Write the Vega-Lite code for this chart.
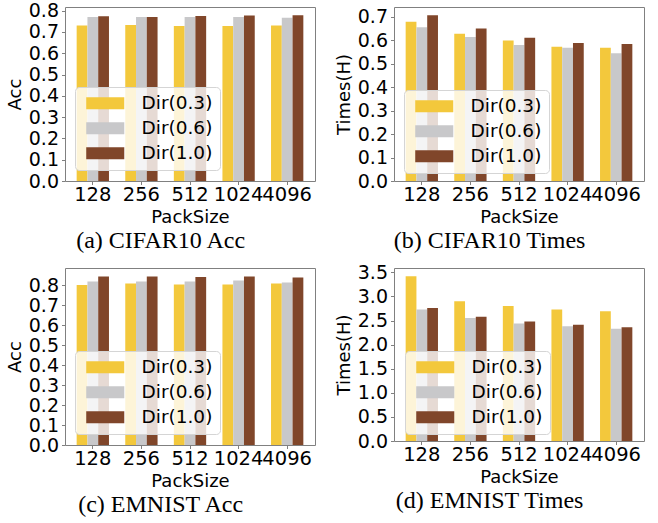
{
  "$schema": "https://vega.github.io/schema/vega-lite/v6.json",
  "padding": {"left": 5, "top": 1, "right": 8, "bottom": 1},
  "background": "white",
  "config": {
    "view": {"stroke": "#808080", "strokeWidth": 1},
    "axis": {
      "labelFont": "DejaVu Sans", "labelFontSize": 19, "labelColor": "black",
      "titleFont": "DejaVu Sans", "titleFontSize": 18, "titleFontWeight": "normal", "titleColor": "black",
      "tickColor": "#808080", "tickSize": 3.5, "domain": false, "grid": false,
      "labelOverlap": false
    },
    "axisX": {"labelPadding": 1, "titlePadding": 4, "labelFontSize": 19.5},
    "axisY": {"labelPadding": 3, "titlePadding": 4},
    "legend": {
      "orient": "none", "title": null,
      "labelFont": "DejaVu Sans", "labelFontSize": 18.5, "labelColor": "black", "labelOffset": 27,
      "symbolType": "M-3.17,-1H3.17V1H-3.17Z", "symbolSize": 144, "symbolOffset": 14, "symbolStrokeWidth": 0, "symbolOpacity": 1,
      "fillColor": "rgba(255,255,255,0.8)", "strokeColor": "#d5d5d5", "cornerRadius": 4, "padding": 7, "rowPadding": 6
    },
    "title": {"font": "Liberation Serif", "fontSize": 24, "fontWeight": "normal", "color": "black", "orient": "bottom", "anchor": "middle", "frame": "bounds", "offset": 3}
  },
  "datasets": {
    "a": [
      {"pack": "128", "dir": "Dir(0.3)", "v": 0.730}, {"pack": "128", "dir": "Dir(0.6)", "v": 0.770}, {"pack": "128", "dir": "Dir(1.0)", "v": 0.774},
      {"pack": "256", "dir": "Dir(0.3)", "v": 0.733}, {"pack": "256", "dir": "Dir(0.6)", "v": 0.770}, {"pack": "256", "dir": "Dir(1.0)", "v": 0.770},
      {"pack": "512", "dir": "Dir(0.3)", "v": 0.728}, {"pack": "512", "dir": "Dir(0.6)", "v": 0.770}, {"pack": "512", "dir": "Dir(1.0)", "v": 0.775},
      {"pack": "1024", "dir": "Dir(0.3)", "v": 0.728}, {"pack": "1024", "dir": "Dir(0.6)", "v": 0.770}, {"pack": "1024", "dir": "Dir(1.0)", "v": 0.777},
      {"pack": "4096", "dir": "Dir(0.3)", "v": 0.730}, {"pack": "4096", "dir": "Dir(0.6)", "v": 0.767}, {"pack": "4096", "dir": "Dir(1.0)", "v": 0.778}
    ],
    "b": [
      {"pack": "128", "dir": "Dir(0.3)", "v": 0.679}, {"pack": "128", "dir": "Dir(0.6)", "v": 0.656}, {"pack": "128", "dir": "Dir(1.0)", "v": 0.707},
      {"pack": "256", "dir": "Dir(0.3)", "v": 0.628}, {"pack": "256", "dir": "Dir(0.6)", "v": 0.614}, {"pack": "256", "dir": "Dir(1.0)", "v": 0.650},
      {"pack": "512", "dir": "Dir(0.3)", "v": 0.599}, {"pack": "512", "dir": "Dir(0.6)", "v": 0.580}, {"pack": "512", "dir": "Dir(1.0)", "v": 0.611},
      {"pack": "1024", "dir": "Dir(0.3)", "v": 0.572}, {"pack": "1024", "dir": "Dir(0.6)", "v": 0.568}, {"pack": "1024", "dir": "Dir(1.0)", "v": 0.588},
      {"pack": "4096", "dir": "Dir(0.3)", "v": 0.568}, {"pack": "4096", "dir": "Dir(0.6)", "v": 0.545}, {"pack": "4096", "dir": "Dir(1.0)", "v": 0.584}
    ],
    "c": [
      {"pack": "128", "dir": "Dir(0.3)", "v": 0.800}, {"pack": "128", "dir": "Dir(0.6)", "v": 0.818}, {"pack": "128", "dir": "Dir(1.0)", "v": 0.842},
      {"pack": "256", "dir": "Dir(0.3)", "v": 0.807}, {"pack": "256", "dir": "Dir(0.6)", "v": 0.817}, {"pack": "256", "dir": "Dir(1.0)", "v": 0.843},
      {"pack": "512", "dir": "Dir(0.3)", "v": 0.803}, {"pack": "512", "dir": "Dir(0.6)", "v": 0.818}, {"pack": "512", "dir": "Dir(1.0)", "v": 0.840},
      {"pack": "1024", "dir": "Dir(0.3)", "v": 0.803}, {"pack": "1024", "dir": "Dir(0.6)", "v": 0.822}, {"pack": "1024", "dir": "Dir(1.0)", "v": 0.842},
      {"pack": "4096", "dir": "Dir(0.3)", "v": 0.807}, {"pack": "4096", "dir": "Dir(0.6)", "v": 0.813}, {"pack": "4096", "dir": "Dir(1.0)", "v": 0.837}
    ],
    "d": [
      {"pack": "128", "dir": "Dir(0.3)", "v": 3.42}, {"pack": "128", "dir": "Dir(0.6)", "v": 2.73}, {"pack": "128", "dir": "Dir(1.0)", "v": 2.76},
      {"pack": "256", "dir": "Dir(0.3)", "v": 2.90}, {"pack": "256", "dir": "Dir(0.6)", "v": 2.55}, {"pack": "256", "dir": "Dir(1.0)", "v": 2.58},
      {"pack": "512", "dir": "Dir(0.3)", "v": 2.80}, {"pack": "512", "dir": "Dir(0.6)", "v": 2.44}, {"pack": "512", "dir": "Dir(1.0)", "v": 2.48},
      {"pack": "1024", "dir": "Dir(0.3)", "v": 2.73}, {"pack": "1024", "dir": "Dir(0.6)", "v": 2.38}, {"pack": "1024", "dir": "Dir(1.0)", "v": 2.41},
      {"pack": "4096", "dir": "Dir(0.3)", "v": 2.69}, {"pack": "4096", "dir": "Dir(0.6)", "v": 2.33}, {"pack": "4096", "dir": "Dir(1.0)", "v": 2.36}
    ]
  },
  "resolve": {"scale": {"color": "independent", "x": "independent", "y": "independent"}, "legend": {"color": "independent"}},
  "spacing": 8,
  "vconcat": [
    {
      "spacing": 18,
      "resolve": {"scale": {"color": "independent", "x": "independent", "y": "independent"}, "legend": {"color": "independent"}},
      "hconcat": [
        {
          "data": {"name": "a"},
          "width": 250, "height": 174,
          "title": {"text": "(a) CIFAR10 Acc"},
          "mark": {"type": "bar"},
          "encoding": {
            "x": {"field": "pack", "type": "ordinal", "sort": ["128", "256", "512", "1024", "4096"], "title": "PackSize",
                  "scale": {"paddingInner": 0.335, "paddingOuter": 0.24}, "axis": {"labelAngle": 0}},
            "xOffset": {"field": "dir", "type": "nominal", "sort": ["Dir(0.3)", "Dir(0.6)", "Dir(1.0)"], "scale": {"paddingInner": 0, "paddingOuter": 0}},
            "y": {"field": "v", "type": "quantitative", "title": "Acc",
                  "scale": {"domain": [0, 0.817], "nice": false},
                  "axis": {"values": [0, 0.1, 0.2, 0.3, 0.4, 0.5, 0.6, 0.7, 0.8], "format": ".1f"}},
            "color": {"field": "dir", "type": "nominal",
                      "scale": {"domain": ["Dir(0.3)", "Dir(0.6)", "Dir(1.0)"], "range": ["#F3C83C", "#C8C8CA", "#80462A"]},
                      "legend": {"legendX": 10, "legendY": 80}}
          }
        },
        {
          "data": {"name": "b"},
          "width": 250, "height": 174,
          "title": {"text": "(b) CIFAR10 Times"},
          "mark": {"type": "bar"},
          "encoding": {
            "x": {"field": "pack", "type": "ordinal", "sort": ["128", "256", "512", "1024", "4096"], "title": "PackSize",
                  "scale": {"paddingInner": 0.335, "paddingOuter": 0.24}, "axis": {"labelAngle": 0}},
            "xOffset": {"field": "dir", "type": "nominal", "sort": ["Dir(0.3)", "Dir(0.6)", "Dir(1.0)"], "scale": {"paddingInner": 0, "paddingOuter": 0}},
            "y": {"field": "v", "type": "quantitative", "title": "Times(H)",
                  "scale": {"domain": [0, 0.742], "nice": false},
                  "axis": {"values": [0, 0.1, 0.2, 0.3, 0.4, 0.5, 0.6, 0.7], "format": ".1f"}},
            "color": {"field": "dir", "type": "nominal",
                      "scale": {"domain": ["Dir(0.3)", "Dir(0.6)", "Dir(1.0)"], "range": ["#F3C83C", "#C8C8CA", "#80462A"]},
                      "legend": {"legendX": 10, "legendY": 83}}
          }
        }
      ]
    },
    {
      "spacing": 18,
      "resolve": {"scale": {"color": "independent", "x": "independent", "y": "independent"}, "legend": {"color": "independent"}},
      "hconcat": [
        {
          "data": {"name": "c"},
          "width": 250, "height": 177,
          "title": {"text": "(c) EMNIST Acc"},
          "mark": {"type": "bar"},
          "encoding": {
            "x": {"field": "pack", "type": "ordinal", "sort": ["128", "256", "512", "1024", "4096"], "title": "PackSize",
                  "scale": {"paddingInner": 0.335, "paddingOuter": 0.24}, "axis": {"labelAngle": 0}},
            "xOffset": {"field": "dir", "type": "nominal", "sort": ["Dir(0.3)", "Dir(0.6)", "Dir(1.0)"], "scale": {"paddingInner": 0, "paddingOuter": 0}},
            "y": {"field": "v", "type": "quantitative", "title": "Acc",
                  "scale": {"domain": [0, 0.885], "nice": false},
                  "axis": {"values": [0, 0.1, 0.2, 0.3, 0.4, 0.5, 0.6, 0.7, 0.8], "format": ".1f"}},
            "color": {"field": "dir", "type": "nominal",
                      "scale": {"domain": ["Dir(0.3)", "Dir(0.6)", "Dir(1.0)"], "range": ["#F3C83C", "#C8C8CA", "#80462A"]},
                      "legend": {"legendX": 10, "legendY": 83}}
          }
        },
        {
          "data": {"name": "d"},
          "width": 250, "height": 173,
          "title": {"text": "(d) EMNIST Times"},
          "mark": {"type": "bar"},
          "encoding": {
            "x": {"field": "pack", "type": "ordinal", "sort": ["128", "256", "512", "1024", "4096"], "title": "PackSize",
                  "scale": {"paddingInner": 0.335, "paddingOuter": 0.24}, "axis": {"labelAngle": 0}},
            "xOffset": {"field": "dir", "type": "nominal", "sort": ["Dir(0.3)", "Dir(0.6)", "Dir(1.0)"], "scale": {"paddingInner": 0, "paddingOuter": 0}},
            "y": {"field": "v", "type": "quantitative", "title": "Times(H)",
                  "scale": {"domain": [0, 3.59], "nice": false},
                  "axis": {"values": [0, 0.5, 1, 1.5, 2, 2.5, 3, 3.5], "format": ".1f"}},
            "color": {"field": "dir", "type": "nominal",
                      "scale": {"domain": ["Dir(0.3)", "Dir(0.6)", "Dir(1.0)"], "range": ["#F3C83C", "#C8C8CA", "#80462A"]},
                      "legend": {"legendX": 11, "legendY": 83}}
          }
        }
      ]
    }
  ]
}
